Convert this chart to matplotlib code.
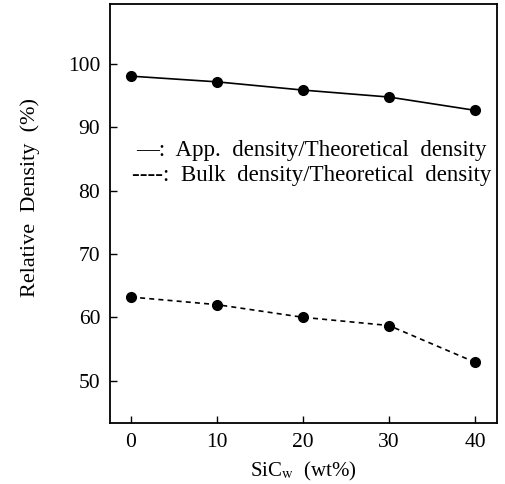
import matplotlib
matplotlib.use("Agg")
import matplotlib.pyplot as plt

# Data
sic_wt = [0, 10, 20, 30, 40]
app_density = [98.1, 97.2, 95.9, 94.8, 92.7]
bulk_density = [63.2, 62.0, 60.0, 58.7, 52.9]
x_ticks = [0, 10, 20, 30, 40]
x_ticklabels = ["0", "10", "20", "30", "40"]
y_ticks = [50, 60, 70, 80, 90, 100]
y_ticklabels = ["50", "60", "70", "80", "90", "100"]
legend_app = "—:  App.  density/Theoretical  density"
legend_bulk = "----:  Bulk  density/Theoretical  density"

plt.rcParams['font.family'] = ['Liberation Serif', 'DejaVu Serif']
plt.rcParams['mathtext.fontset'] = 'stix'

fig = plt.figure(figsize=(5.06, 4.84), dpi=100)
ax = fig.add_axes([110/506, 1-423/484, (497-110)/506, (423-4)/484])

ax.plot(sic_wt, app_density, '-', color='black', lw=1.2,
        marker='o', ms=7, mfc='black', mec='black')
ax.plot(sic_wt, bulk_density, '--', color='black', lw=1.2, dashes=(3, 2.5),
        marker='o', ms=7, mfc='black', mec='black')

ax.set_xlim(-2.44, 42.56)
ax.set_ylim(43.3, 109.5)
ax.set_xticks(x_ticks)
ax.set_xticklabels(x_ticklabels)
ax.set_yticks(y_ticks)
ax.set_yticklabels(y_ticklabels)
ax.tick_params(direction='in', length=5, width=1.0, labelsize=15.5, pad=7,
               top=False, right=False)
for s in ax.spines.values():
    s.set_linewidth(1.3)

ax.set_xlabel(r"SiC$_{\rm w}$  (wt%)", fontsize=15, labelpad=6)
ax.set_ylabel("Relative  Density  (%)", fontsize=16)
ax.yaxis.set_label_coords(-0.18, 0.538)

ax.text(0.6, 86.3, legend_app, fontsize=16.5, ha='left', va='center')
ax.text(0.1, 82.4, legend_bulk, fontsize=16.5, ha='left', va='center')

fig.savefig("out.png", dpi=100)
